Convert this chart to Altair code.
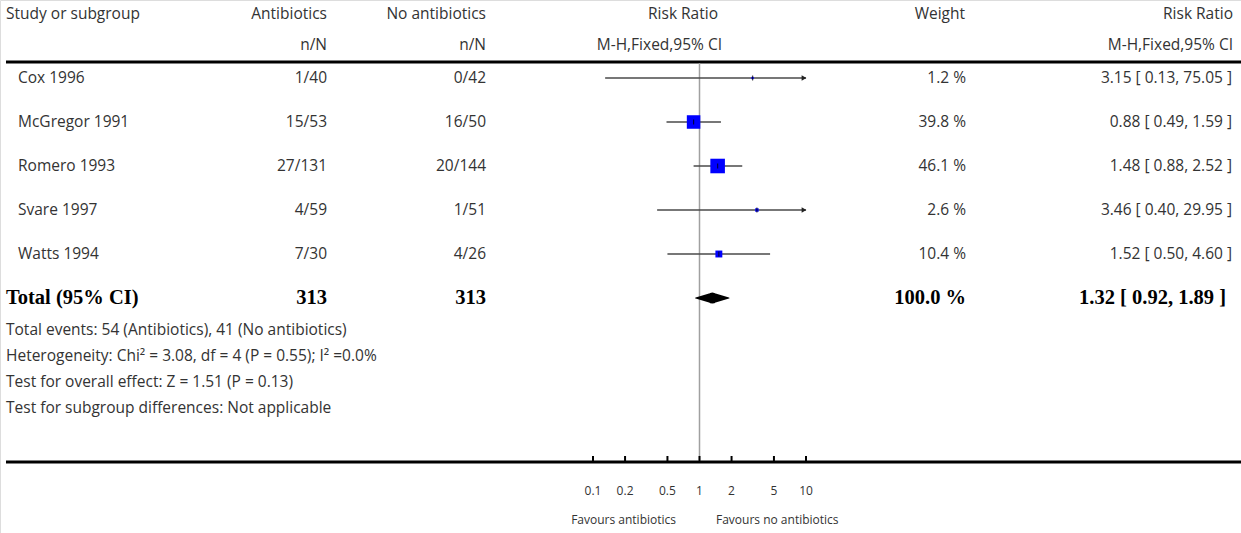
import altair as alt
import pandas as pd

# ---- study data ----
studies = ["Cox 1996", "McGregor 1991", "Romero 1993", "Svare 1997", "Watts 1994"]
abx_events = [1, 15, 27, 4, 7]
abx_total = [40, 53, 131, 59, 30]
ctl_events = [0, 16, 20, 1, 4]
ctl_total = [42, 50, 144, 51, 26]
weights = [1.2, 39.8, 46.1, 2.6, 10.4]
rr = [3.15, 0.88, 1.48, 3.46, 1.52]
ci_lo = [0.13, 0.49, 0.88, 0.40, 0.50]
ci_hi = [75.05, 1.59, 2.52, 29.95, 4.60]

# ---- pooled result ----
total_abx = 313
total_ctl = 313
total_weight = 100.0
pooled_rr = 1.32
pooled_lo = 0.92
pooled_hi = 1.89

footnotes = [
    "Total events: 54 (Antibiotics), 41 (No antibiotics)",
    "Heterogeneity: Chi\u00b2 = 3.08, df = 4 (P = 0.55); I\u00b2 =0.0%",
    "Test for overall effect: Z = 1.51 (P = 0.13)",
    "Test for subgroup differences: Not applicable",
]

tick_values = [0.1, 0.2, 0.5, 1, 2, 5, 10]
tick_labels = ["0.1", "0.2", "0.5", "1", "2", "5", "10"]

# ---- layout ----
W, H = 1241, 533
FONT = "Open Sans"
SERIF = "Liberation Serif"
TXT = "#333333"
FS = 15.5
BFS = 20.5
X_MIN, X_MAX = 0.1, 10

n = len(studies)
rows = pd.DataFrame({
    "row": list(range(n)),
    "study": studies,
    "abx": [f"{e}/{t}" for e, t in zip(abx_events, abx_total)],
    "ctl": [f"{e}/{t}" for e, t in zip(ctl_events, ctl_total)],
    "weight": weights,
    "weight_txt": [f"{w:.1f} %" for w in weights],
    "rr": rr,
    "lo": ci_lo,
    "hi": ci_hi,
    "hi_draw": [min(h, X_MAX) for h in ci_hi],
    "lo_draw": [max(l, X_MIN) for l in ci_lo],
    "rr_txt": [f"{r:.2f} [ {l:.2f}, {h:.2f} ]" for r, l, h in zip(rr, ci_lo, ci_hi)],
})
arrows = rows[rows["hi"] > X_MAX].assign(edge=X_MAX)

total_row = n
total_df = pd.DataFrame({
    "row": [total_row],
    "label": ["Total (95% CI)"],
    "abx": [str(total_abx)],
    "ctl": [str(total_ctl)],
    "weight_txt": [f"{total_weight:.1f} %"],
    "rr_txt": [f"{pooled_rr:.2f} [ {pooled_lo:.2f}, {pooled_hi:.2f} ]"],
})

# pooled diamond: zero width at the CI limits, full width at the estimate
diamond = pd.DataFrame({
    "x": [pooled_lo, pooled_rr, pooled_hi],
    "row": [total_row] * 3,
    "w": [0.0, 1.0, 0.0],
})

ticks = pd.DataFrame({"v": tick_values, "lab": tick_labels})

xs = alt.Scale(type="log", domain=[X_MIN, X_MAX], range=[593, 806])
ys = alt.Scale(domain=[0, n], range=[78, 298])

X = lambda f: alt.X(f, scale=xs, axis=None)
Y = lambda f: alt.Y(f, scale=ys, axis=None)


def col_text(df, field, x, align, bold=False, font=FONT, size=FS):
    return alt.Chart(df).mark_text(
        align=align, baseline="middle", font=font, fontSize=size,
        fontWeight="bold" if bold else "normal", color="#000000" if bold else TXT,
    ).encode(x=alt.value(x), y=Y("row:Q"), text=f"{field}:N")


def fixed_text(txt, x, y, align="left", size=FS, font=FONT):
    return alt.Chart(pd.DataFrame({"t": [txt]})).mark_text(
        align=align, baseline="middle", font=font, fontSize=size, color=TXT
    ).encode(x=alt.value(x), y=alt.value(y), text="t:N")


# header
headers = [
    fixed_text("Study or subgroup", 6, 14),
    fixed_text("Antibiotics", 327, 14, "right"),
    fixed_text("n/N", 327, 45, "right"),
    fixed_text("No antibiotics", 486, 14, "right"),
    fixed_text("n/N", 486, 45, "right"),
    fixed_text("Risk Ratio", 718, 14, "right"),
    fixed_text("M-H,Fixed,95% CI", 722, 45, "right"),
    fixed_text("Weight", 965, 14, "right"),
    fixed_text("Risk Ratio", 1233, 14, "right"),
    fixed_text("M-H,Fixed,95% CI", 1233, 45, "right"),
]

# horizontal frame lines
frame = alt.Chart(pd.DataFrame({"k": [0]})).mark_rule(color="#000000", strokeWidth=3)
top_line = frame.encode(x=alt.value(6), x2=alt.value(W), y=alt.value(62))
bottom_line = frame.encode(x=alt.value(6), x2=alt.value(W), y=alt.value(462))

# line of no effect
null_line = alt.Chart(pd.DataFrame({"k": [0]})).mark_rule(
    color="#a0a0a0", strokeWidth=1.5
).encode(x=alt.datum(1, scale=xs, axis=None), y=alt.value(63), y2=alt.value(461))

# study columns
study_cols = [
    col_text(rows, "study", 18, "left"),
    col_text(rows, "abx", 327, "right"),
    col_text(rows, "ctl", 486, "right"),
    col_text(rows, "weight_txt", 966, "right"),
    col_text(rows, "rr_txt", 1232, "right"),
]

# confidence intervals, weight squares, point ticks, arrows
ci_lines = alt.Chart(rows).mark_rule(color="#4a4a4a", strokeWidth=1.5).encode(
    x=X("lo_draw:Q"), x2="hi_draw:Q", y=Y("row:Q")
)
squares = alt.Chart(rows).mark_point(shape="square", filled=True, color="#0000ff", opacity=1).encode(
    x=X("rr:Q"), y=Y("row:Q"),
    size=alt.Size("weight:Q", scale=alt.Scale(domain=[0, 100], range=[0, 460]), legend=None),
)
est_ticks = alt.Chart(rows).mark_tick(orient="vertical", color="#000000", size=5, thickness=1.2).encode(
    x=X("rr:Q"), y=Y("row:Q")
)
arrow_heads = alt.Chart(arrows).mark_point(
    shape="triangle-right", filled=True, color="#222222", size=30, opacity=1
).encode(x=X("edge:Q"), y=Y("row:Q"), xOffset=alt.value(-2))

# pooled estimate
diamond_mark = alt.Chart(diamond).mark_trail(color="#000000", opacity=1).encode(
    x=X("x:Q"), y=Y("row:Q"), order="x:Q",
    size=alt.Size("w:Q", scale=alt.Scale(domain=[0, 1], range=[0, 11]), legend=None),
)
total_cols = [
    col_text(total_df, "label", 6, "left", bold=True, font=SERIF, size=BFS),
    col_text(total_df, "abx", 327, "right", bold=True, font=SERIF, size=BFS),
    col_text(total_df, "ctl", 486, "right", bold=True, font=SERIF, size=BFS),
    col_text(total_df, "weight_txt", 966, "right", bold=True, font=SERIF, size=BFS),
    col_text(total_df, "rr_txt", 1226, "right", bold=True, font=SERIF, size=BFS),
]

notes = [fixed_text(t, 6, 330 + 26 * i) for i, t in enumerate(footnotes)]

# risk ratio axis
axis_ticks = alt.Chart(ticks).mark_rule(color="#000000", strokeWidth=2).encode(
    x=X("v:Q"), y=alt.value(456), y2=alt.value(462)
)
axis_labels = alt.Chart(ticks).mark_text(
    font=FONT, fontSize=12, color=TXT, baseline="middle", align="center"
).encode(x=X("v:Q"), y=alt.value(491), text="lab:N")

favours = [
    fixed_text("Favours antibiotics", 676, 520, "right", size=12),
    fixed_text("Favours no antibiotics", 716, 520, "left", size=12),
]

chart = alt.layer(
    top_line, bottom_line, null_line, ci_lines, squares, est_ticks, arrow_heads,
    diamond_mark, axis_ticks, axis_labels,
    *headers, *study_cols, *total_cols, *notes, *favours,
).resolve_scale(size="independent").properties(
    width=W, height=H, padding=0, autosize=alt.AutoSizeParams(type="none")
).configure_view(stroke=None).configure(background="#ffffff")

chart.save("out.html", embed_options={"renderer": "svg", "actions": False})
